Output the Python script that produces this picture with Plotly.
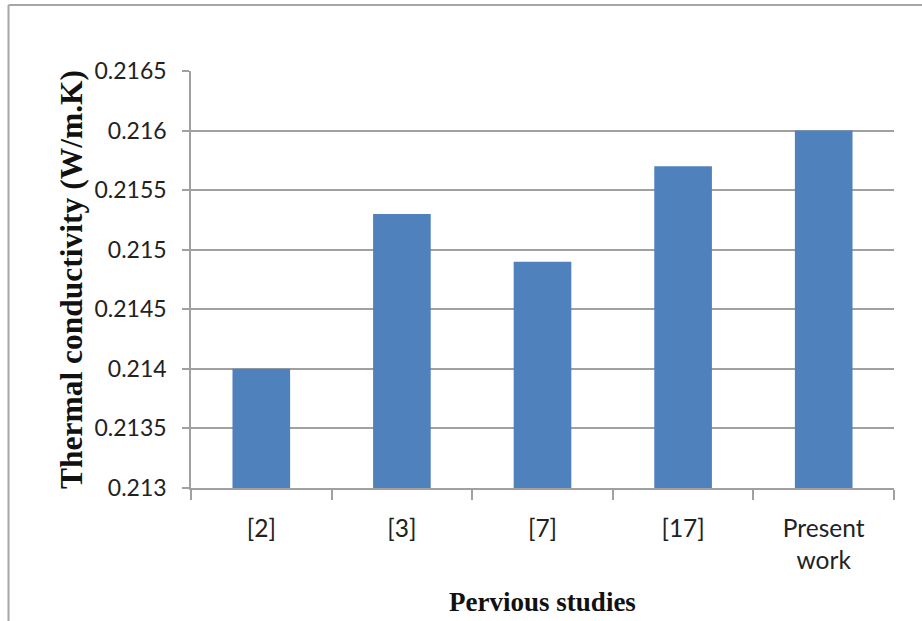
import plotly.graph_objects as go

# Thermal conductivity reported by earlier studies vs. the present work
categories = ["[2]", "[3]", "[7]", "[17]", "Present<br>work"]
conductivity = [0.2140, 0.2153, 0.2149, 0.2157, 0.2160]
y_floor = 0.213
y_ticks = [0.213, 0.2135, 0.214, 0.2145, 0.215, 0.2155, 0.216, 0.2165]
y_tick_text = ["0.213", "0.2135", "0.214", "0.2145", "0.215", "0.2155", "0.216", "0.2165"]

W, H = 922, 621
ML, MR, MT, MB = 191, 28, 71, 133
pw, ph = W - ML - MR, H - MT - MB

grid_col = "#A0A0A0"
sans = "Lato, Carlito, Calibri, sans-serif"
serif = "Liberation Serif, Times New Roman, serif"

fig = go.Figure(
    go.Bar(
        x=categories,
        y=[v - y_floor for v in conductivity],
        base=y_floor,
        marker=dict(color="#4F81BD", line=dict(width=0)),
    )
)

fig.update_layout(
    width=W,
    height=H,
    margin=dict(l=ML, r=MR, t=MT, b=MB, pad=0, autoexpand=False),
    paper_bgcolor="white",
    plot_bgcolor="white",
    bargap=0.59,
    showlegend=False,
    xaxis=dict(
        type="category",
        automargin=False,
        tickson="boundaries",
        ticks="outside",
        ticklen=10,
        tickwidth=1.5,
        tickcolor=grid_col,
        showline=True,
        linecolor=grid_col,
        linewidth=1.5,
        showgrid=False,
        tickfont=dict(family=sans, size=24.5, color="#222222"),
        ticklabelstandoff=18,
        title=dict(text="<b>Pervious studies</b>",
                   font=dict(family=serif, size=27, color="#111111"), standoff=19),
    ),
    yaxis=dict(
        automargin=False,
        range=[0.213, 0.2165],
        tickvals=y_ticks,
        ticktext=y_tick_text,
        ticks="outside",
        ticklen=7,
        tickwidth=1.5,
        tickcolor=grid_col,
        showline=True,
        linecolor=grid_col,
        linewidth=1.5,
        showgrid=True,
        gridcolor=grid_col,
        gridwidth=1.5,
        zeroline=False,
        tickfont=dict(family=sans, size=23, color="#222222"),
        ticklabelstandoff=11,
        title=dict(text="<b>Thermal conductivity (W/m.K)</b>",
                   font=dict(family=serif, size=31.5, color="#111111"), standoff=2),
    ),
)

# outer chart frame (top and left edges visible)
x_left = (8.5 - ML) / pw
y_top = (H - MB - 5) / ph
fig.add_shape(type="line", xref="paper", yref="paper", x0=x_left, x1=1.2, y0=y_top, y1=y_top,
              line=dict(color="#A6A6A6", width=2))
fig.add_shape(type="line", xref="paper", yref="paper", x0=x_left, x1=x_left, y0=y_top, y1=-0.4,
              line=dict(color="#A6A6A6", width=2))

fig.write_html("out.html")
